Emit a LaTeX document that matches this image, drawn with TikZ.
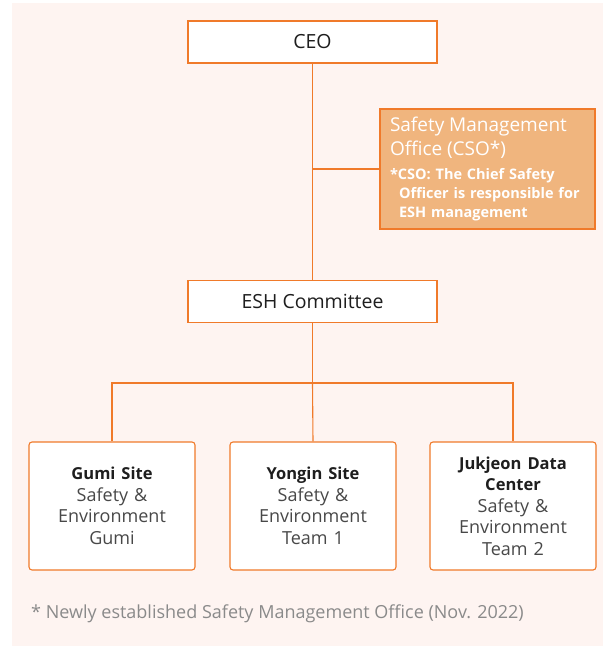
\documentclass[tikz,border=0pt]{standalone}
\usepackage{fontspec}
\setmainfont{Open Sans}
\definecolor{orgline}{HTML}{F07A2A}
\definecolor{csofill}{HTML}{F0B57E}
\definecolor{bgpink}{HTML}{FEF4F1}
\definecolor{darktext}{HTML}{1E1E1E}
\definecolor{bodytext}{HTML}{484848}
\definecolor{notetext}{HTML}{8A8A8A}
\begin{document}
\begin{tikzpicture}[x=1pt,y=-1pt,
  topbox/.style={draw=orgline, fill=white, line width=1.1pt, minimum width=249pt, minimum height=42pt, inner sep=0pt, font=\fontsize{19.5}{22}\selectfont, text=darktext},
  sitebox/.style={draw=orgline, fill=white, line width=1.1pt, rounded corners=3pt, minimum width=166pt, minimum height=128pt, inner sep=0pt, text width=160pt, align=center, font=\fontsize{18}{21.5}\selectfont, text=bodytext},
  sitetitle/.style={},
  csobox/.style={draw=orgline, fill=csofill, line width=1.1pt, minimum width=215pt, minimum height=120pt, inner xsep=10pt, inner ysep=0pt, text width=195pt, align=left, text=white, font=\fontsize{14.5}{19}\selectfont},
  conn/.style={draw=orgline, line width=1.1pt}]
\fill[bgpink] (12,3) rectangle (603,646);
\useasboundingbox (0,0) rectangle (603,646);

\node[topbox] (ceo) at (312.5,42) {CEO};
\node[topbox] (esh) at (312.5,301.5) {ESH Committee};
\node[csobox] (cso) at (487.5,169) {{\fontsize{19}{22}\selectfont Safety Management}\\[3pt]{\fontsize{19}{22}\selectfont Office (CSO*)}\\[5pt]
{\bfseries *CSO: The Chief Safety}\\{\bfseries\hspace*{9pt}Officer is responsible for}\\{\bfseries\hspace*{9pt}ESH management}};

\node[sitebox] (gumi) at (112,506) {{\color{darktext}\bfseries\fontsize{16.5}{21}\selectfont Gumi Site}\\Safety \&\\Environment\\Gumi};
\node[sitebox] (yong) at (313,506) {{\color{darktext}\bfseries\fontsize{16.5}{21}\selectfont Yongin Site}\\Safety \&\\Environment\\Team 1};
\node[sitebox] (jk) at (513,506) {{\color{darktext}\bfseries\fontsize{16.5}{21}\selectfont Jukjeon Data}\\{\color{darktext}\bfseries\fontsize{16.5}{21}\selectfont Center}\\Safety \&\\Environment\\Team 2};

\coordinate (bar) at (312.5,383);
\path[conn] (ceo.south) -- (esh.north);
\path[conn] (ceo.south |- cso.west) -- (cso.west);
\path[conn] (esh.south) -- (bar);
\path[conn] (bar) -- (yong.north);
\path[conn] (gumi.north) -- (gumi.north |- bar) -- (jk.north |- bar) -- (jk.north);

\node[anchor=west, inner sep=0pt, text=notetext, font=\fontsize{18}{21}\selectfont] (note) at (31,614) {* Newly established Safety Management Office (Nov. 2022)};
\end{tikzpicture}
\end{document}
